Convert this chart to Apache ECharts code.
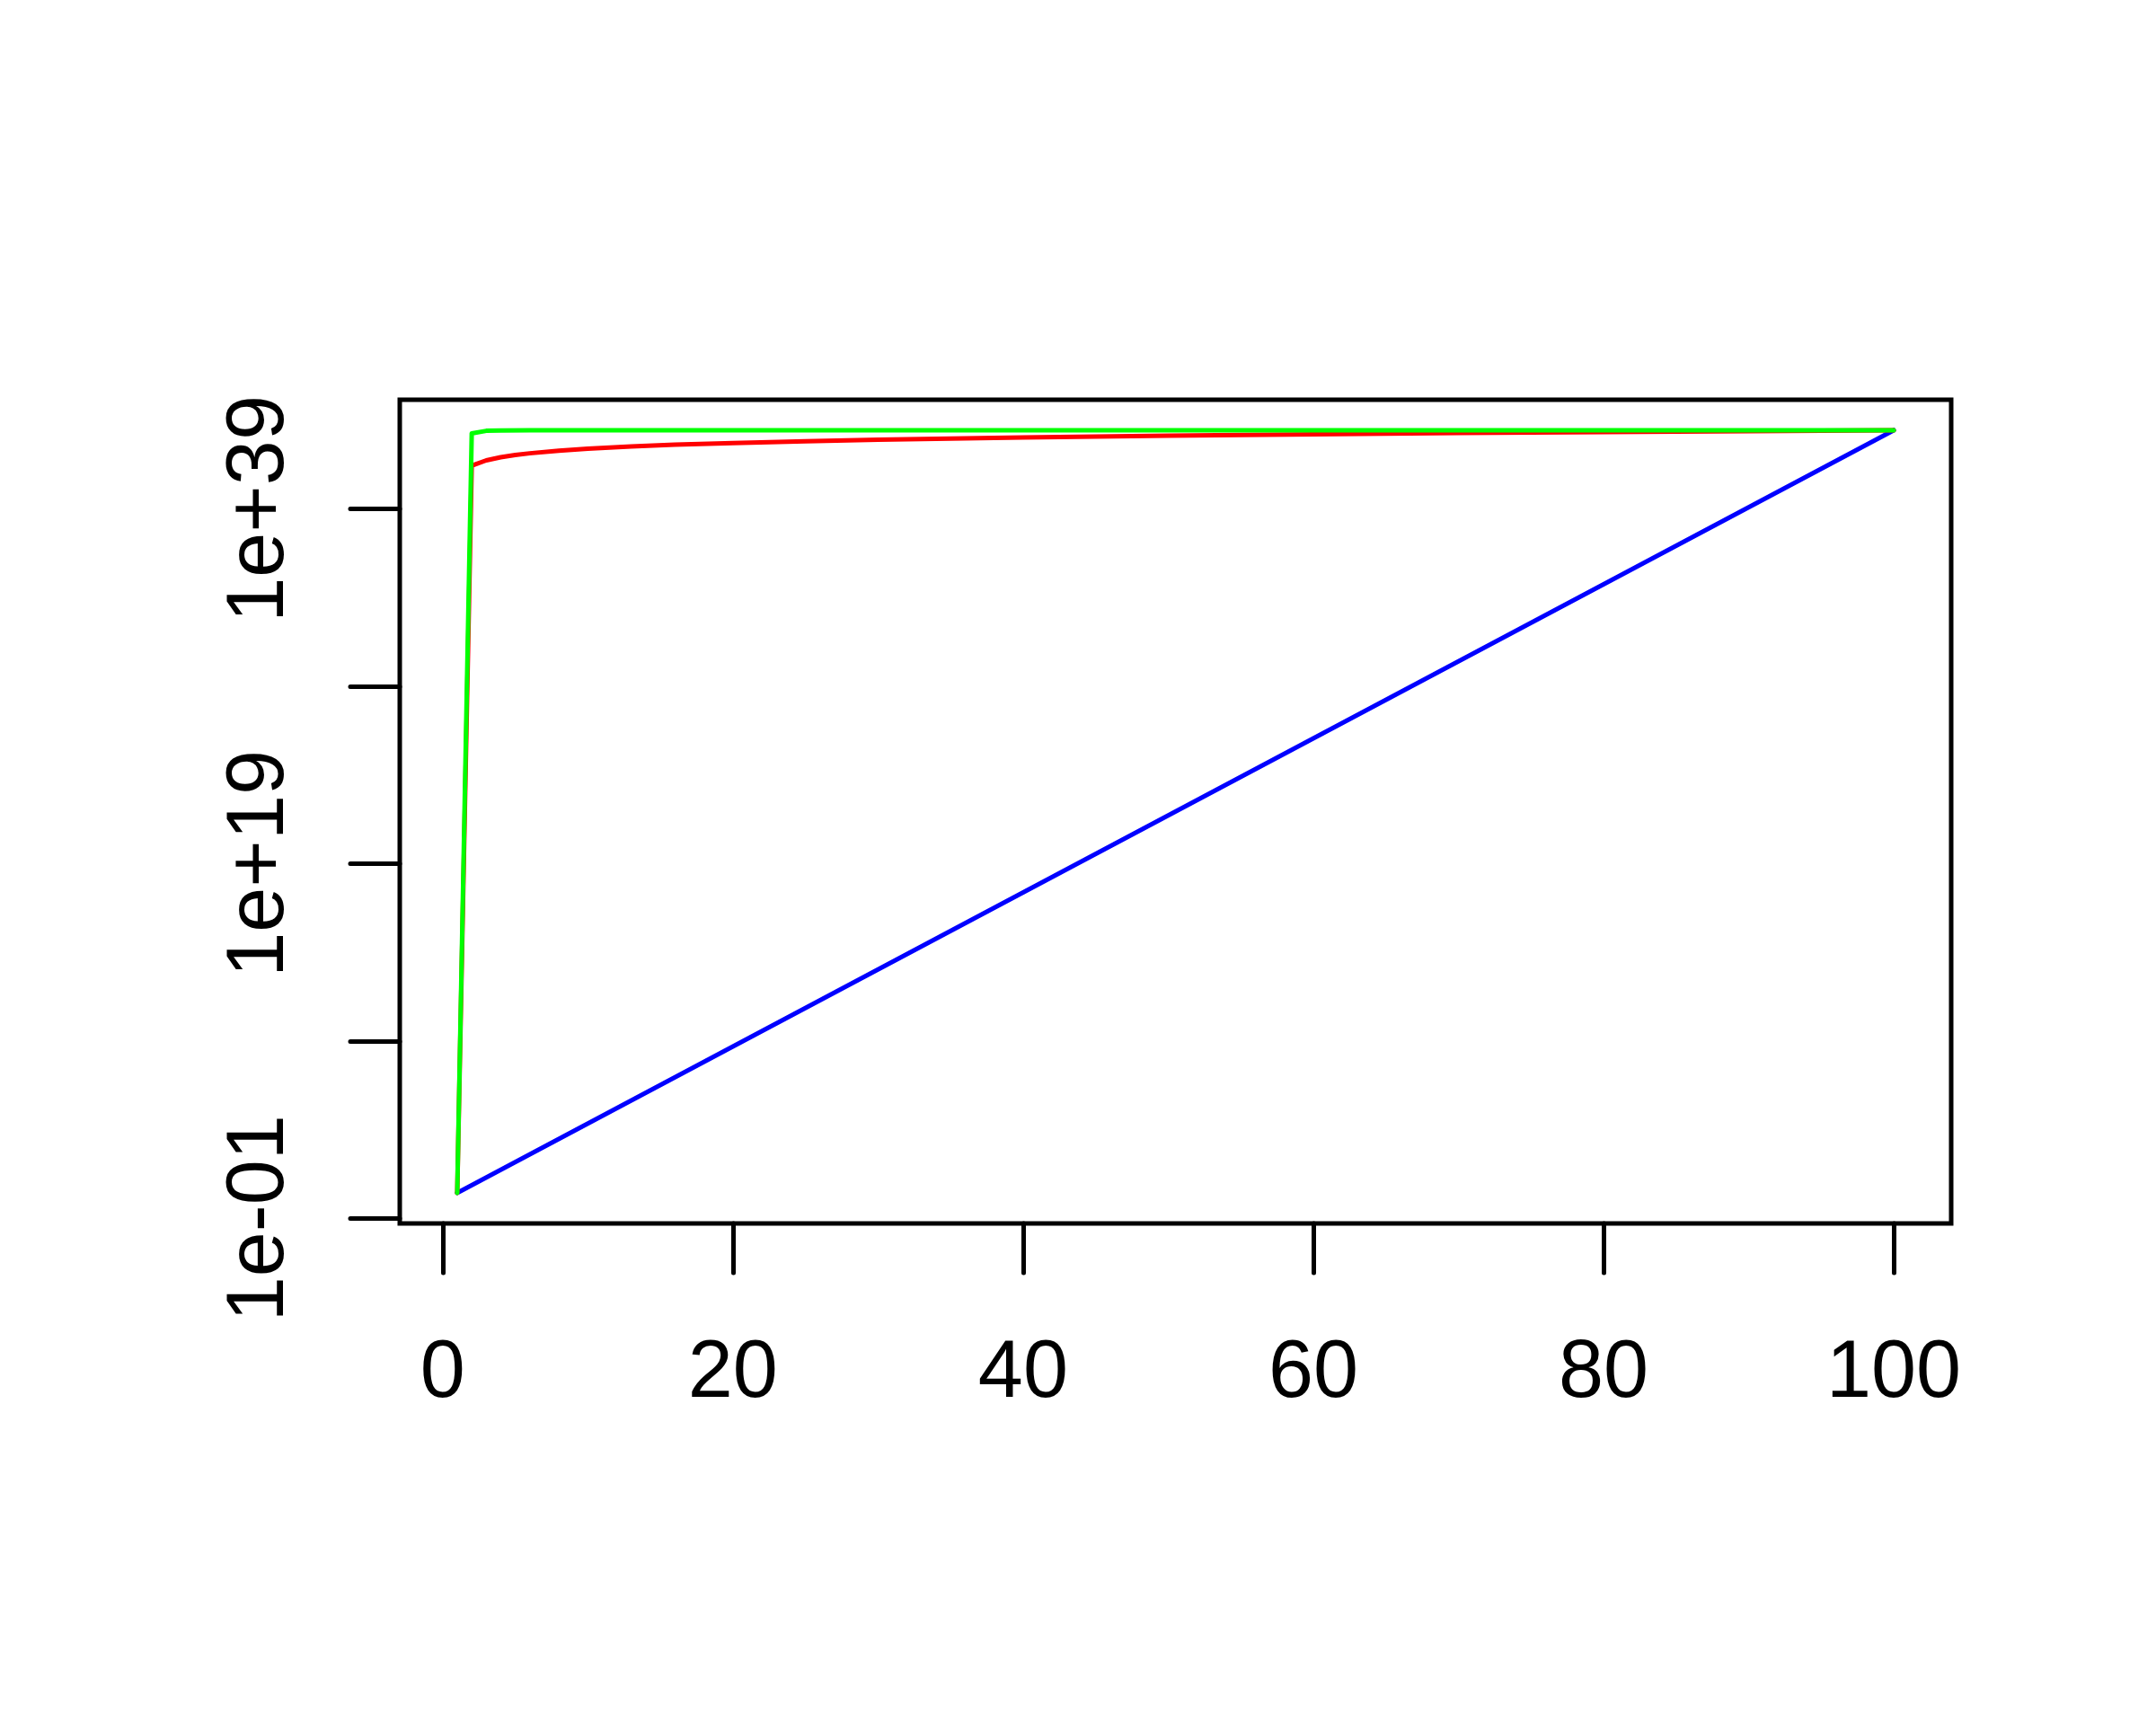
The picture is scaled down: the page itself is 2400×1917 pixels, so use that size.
<!DOCTYPE html>
<html>
<head>
<meta charset="utf-8">
<script src="https://cdn.jsdelivr.net/npm/echarts@6/dist/echarts.min.js"></script>
<style>
  html, body { margin: 0; padding: 0; background: #ffffff; }
  #chart { width: 2400px; height: 1917px; }
</style>
</head>
<body>
<div id="chart"></div>
<script>
// ---- data (y values are plotted on a log10 scale) ----
var blueX = [1, 20, 40, 60, 80, 100];
var blueY = [2.72, 4.9e8, 2.35e17, 1.14e26, 5.5e34, 2.69e43];

var redX = [1, 2, 3, 4, 5, 6, 8, 10, 13, 16, 20, 25, 30, 40, 50, 60, 70, 80, 90, 100];
var redY = [2.72, 2.7e41, 5.4e41, 8.1e41, 1.08e42, 1.35e42, 1.9e42, 2.45e42, 3.25e42,
            4.1e42, 5.1e42, 6.5e42, 7.9e42, 1.06e43, 1.33e43, 1.6e43, 1.87e43,
            2.13e43, 2.4e43, 2.69e43];

var greenX = [1, 2, 3, 4, 6, 10, 100];
var greenY = [2.72, 1.8e43, 2.5e43, 2.62e43, 2.67e43, 2.69e43, 2.69e43];

var xTicks = [0, 20, 40, 60, 80, 100];
var yTickExps = [-1, 9, 19, 29, 39];
var yLabelExps = [-1, 19, 39];

// ---- build ----
function pairs(xs, ys) {
  return xs.map(function (x, i) { return [x, Math.log10(ys[i])]; });
}
function expLabel(v) {
  var e = Math.round(v);
  var s = String(Math.abs(e));
  if (s.length < 2) s = '0' + s;
  return '1e' + (e < 0 ? '-' : '+') + s;
}

var FONT = 'Liberation Sans, Arial, Helvetica, sans-serif';
var chart = echarts.init(document.getElementById('chart'), null, { renderer: 'canvas' });

function lineSeries(name, xs, ys, color) {
  return {
    name: name,
    type: 'line',
    data: pairs(xs, ys),
    showSymbol: false,
    symbol: 'none',
    smooth: false,
    clip: false,
    lineStyle: { color: color, width: 5, cap: 'round', join: 'round' },
    emphasis: { disabled: true }
  };
}

chart.setOption({
  animation: false,
  backgroundColor: '#ffffff',
  grid: {
    left: 445, top: 445, width: 1727, height: 917,
    show: true, borderColor: '#000000', borderWidth: 5,
    backgroundColor: 'transparent', containLabel: false
  },
  xAxis: {
    type: 'value',
    min: -2.96, max: 103.96,
    axisLine: { show: false, onZero: false },
    splitLine: { show: false },
    axisTick: {
      show: true, inside: false, length: 55,
      customValues: xTicks,
      lineStyle: { color: '#000000', width: 5, cap: 'round' }
    },
    axisLabel: {
      show: true, customValues: xTicks,
      margin: 123, fontSize: 90, fontFamily: FONT, color: '#000000',
      formatter: function (v) { return String(v); }
    }
  },
  yAxis: {
    type: 'value',
    min: -1.29, max: 45.15,
    axisLine: { show: false, onZero: false },
    splitLine: { show: false },
    axisTick: {
      show: true, inside: false, length: 55,
      customValues: yTickExps,
      lineStyle: { color: '#000000', width: 5, cap: 'round' }
    },
    axisLabel: {
      show: true, customValues: yLabelExps,
      rotate: 90, margin: 110, fontSize: 90, fontFamily: FONT, color: '#000000',
      formatter: expLabel
    }
  },
  series: [
    lineSeries('blue', blueX, blueY, '#0000FF'),
    lineSeries('red', redX, redY, '#FF0000'),
    lineSeries('green', greenX, greenY, '#00FF00')
  ]
});
</script>
</body>
</html>
